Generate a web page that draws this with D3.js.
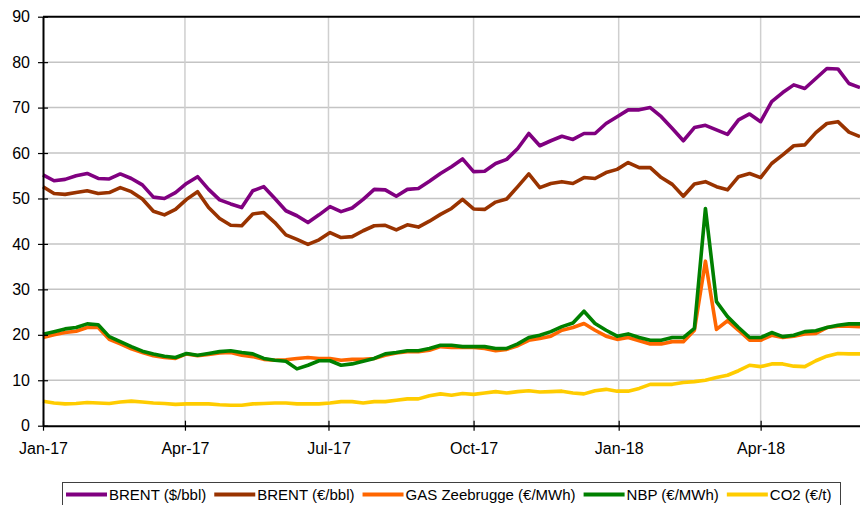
<!DOCTYPE html>
<html>
<head>
<meta charset="utf-8">
<script src="https://cdn.jsdelivr.net/npm/d3@7"></script>
<style>
  body { margin: 0; background: #fff; }
  svg { display: block; font-family: Arial, "Liberation Sans", sans-serif; }
</style>
</head>
<body>
<svg id="chart" width="860" height="505"></svg>
<script>
// weekly dates
const dates = [
  "2017-01-01","2017-01-08","2017-01-15","2017-01-22","2017-01-29","2017-02-05","2017-02-12","2017-02-19","2017-02-26","2017-03-05",
  "2017-03-12","2017-03-19","2017-03-26","2017-04-02","2017-04-09","2017-04-16","2017-04-23","2017-04-30","2017-05-07","2017-05-14",
  "2017-05-21","2017-05-28","2017-06-04","2017-06-11","2017-06-18","2017-06-25","2017-07-02","2017-07-09","2017-07-16","2017-07-23",
  "2017-07-30","2017-08-06","2017-08-13","2017-08-20","2017-08-27","2017-09-03","2017-09-10","2017-09-17","2017-09-24","2017-10-01",
  "2017-10-08","2017-10-15","2017-10-22","2017-10-29","2017-11-05","2017-11-12","2017-11-19","2017-11-26","2017-12-03","2017-12-10",
  "2017-12-17","2017-12-24","2017-12-31","2018-01-07","2018-01-14","2018-01-21","2018-01-28","2018-02-04","2018-02-11","2018-02-18",
  "2018-02-25","2018-03-04","2018-03-11","2018-03-18","2018-03-25","2018-04-01","2018-04-08","2018-04-15","2018-04-22","2018-04-29",
  "2018-05-06","2018-05-13","2018-05-20","2018-05-27","2018-06-03"
];

const brentUsd = [
  55.2, 53.9, 54.2, 55.0, 55.5, 54.4, 54.3, 55.4, 54.4, 53.0,
  50.3, 50.0, 51.3, 53.3, 54.8, 52.0, 49.7, 48.8, 48.0, 51.7,
  52.6, 50.0, 47.3, 46.2, 44.7, 46.4, 48.2, 47.1, 47.9, 49.8,
  52.0, 51.9, 50.5, 52.0, 52.2, 53.8, 55.5, 57.0, 58.7, 55.9,
  56.0, 57.7, 58.6, 61.0, 64.3, 61.6, 62.7, 63.7, 63.0, 64.3,
  64.3, 66.5, 68.0, 69.5, 69.5, 70.0, 68.0, 65.4, 62.7, 65.6,
  66.1, 65.1, 64.1, 67.3, 68.6, 66.9, 71.3, 73.3, 75.0, 74.2,
  76.4, 78.6, 78.5, 75.3, 74.4
];
const brentEur = [
  52.6, 51.1, 50.9, 51.3, 51.7, 51.1, 51.3, 52.4, 51.5, 49.9,
  47.2, 46.4, 47.6, 49.8, 51.5, 48.0, 45.6, 44.1, 44.0, 46.6,
  46.9, 44.7, 42.0, 41.0, 39.9, 40.9, 42.5, 41.4, 41.6, 42.9,
  44.0, 44.1, 43.1, 44.2, 43.7, 45.0, 46.5, 47.8, 49.8, 47.7,
  47.6, 49.2, 49.9, 52.6, 55.4, 52.4, 53.3, 53.7, 53.3, 54.6,
  54.4, 55.7, 56.4, 57.9, 56.8, 56.8, 54.6, 53.1, 50.5, 53.2,
  53.7, 52.6, 51.9, 54.8, 55.5, 54.6, 57.7, 59.6, 61.6, 61.8,
  64.5, 66.5, 66.9, 64.6, 63.6
];
const gasZee = [
  19.4, 20.0, 20.5, 20.8, 21.6, 21.6, 19.0, 18.0, 16.9, 16.1,
  15.4, 15.0, 14.8, 15.8, 15.4, 15.7, 16.0, 16.1, 15.5, 15.2,
  14.6, 14.4, 14.5, 14.8, 15.0, 14.8, 14.8, 14.4, 14.6, 14.6,
  14.8, 15.5, 16.0, 16.3, 16.3, 16.6, 17.4, 17.2, 17.2, 17.2,
  17.0, 16.5, 16.8, 17.6, 18.8, 19.2, 19.7, 21.0, 21.6, 22.5,
  21.0, 19.7, 19.0, 19.4, 18.7, 18.0, 18.0, 18.5, 18.5, 21.0,
  36.2, 21.2, 23.1, 21.0, 18.8, 18.8, 19.9, 19.4, 19.7, 20.2,
  20.3, 21.6, 21.9, 21.9, 21.8
];
const nbp = [
  20.1, 20.7, 21.3, 21.6, 22.4, 22.2, 19.6, 18.5, 17.4, 16.4,
  15.8, 15.3, 15.0, 15.9, 15.5, 15.9, 16.3, 16.5, 16.1, 15.8,
  14.8, 14.4, 14.2, 12.5, 13.3, 14.3, 14.3, 13.3, 13.6, 14.2,
  14.8, 15.8, 16.1, 16.5, 16.5, 17.0, 17.7, 17.7, 17.4, 17.4,
  17.4, 17.0, 17.0, 18.0, 19.4, 19.9, 20.7, 21.8, 22.6, 25.2,
  22.5, 21.0, 19.7, 20.2, 19.4, 18.8, 18.8, 19.4, 19.4, 21.4,
  47.8, 27.3, 24.0, 21.6, 19.4, 19.4, 20.5, 19.6, 19.9, 20.7,
  20.9, 21.6, 22.1, 22.4, 22.4
];
const co2 = [
  5.4, 5.0, 4.8, 4.9, 5.1, 5.0, 4.9, 5.2, 5.4, 5.2,
  5.0, 4.9, 4.7, 4.8, 4.8, 4.8, 4.6, 4.5, 4.5, 4.8,
  4.9, 5.0, 5.0, 4.8, 4.8, 4.8, 5.0, 5.3, 5.3, 5.0,
  5.3, 5.3, 5.6, 5.9, 5.9, 6.6, 7.0, 6.7, 7.1, 6.9,
  7.2, 7.5, 7.2, 7.5, 7.7, 7.4, 7.5, 7.6, 7.2, 7.0,
  7.7, 8.0, 7.6, 7.6, 8.2, 9.1, 9.1, 9.1, 9.5, 9.7,
  10.0, 10.6, 11.1, 12.1, 13.3, 13.0, 13.6, 13.6, 13.1, 13.0,
  14.3, 15.3, 15.9, 15.8, 15.8
];

const seriesNames = ["BRENT ($/bbl)", "BRENT (€/bbl)", "GAS Zeebrugge (€/MWh)", "NBP (€/MWh)", "CO2 (€/t)"];
const seriesValues = [brentUsd, brentEur, gasZee, nbp, co2];
const colors = ["#800080", "#993300", "#ff6600", "#008000", "#ffcc00"];
const yTicks = [0, 10, 20, 30, 40, 50, 60, 70, 80, 90];

const parse = d3.timeParse("%Y-%m-%d");
const dateObjs = dates.map(parse);

const svg = d3.select("#chart");
const plotL = 43, plotR = 860, plotT = 16.7, plotB = 425.7;

const x = d3.scaleTime()
  .domain([parse("2017-01-01"), parse("2018-06-03")])
  .range([plotL, plotR]);
const y = d3.scaleLinear().domain([0, 90]).range([plotB, plotT]);

const quarterTicks = d3.timeMonth.every(3).range(parse("2017-01-01"), parse("2018-06-01"));

// grid lines
svg.append("g").selectAll("line")
  .data(yTicks.filter(v => v > 0 && v < 90))
  .enter().append("line")
  .attr("x1", plotL).attr("x2", plotR)
  .attr("y1", d => y(d)).attr("y2", d => y(d))
  .attr("stroke", "#c4c4c4").attr("stroke-width", 1.5);

svg.append("g").selectAll("line")
  .data(quarterTicks.slice(1))
  .enter().append("line")
  .attr("x1", d => x(d)).attr("x2", d => x(d))
  .attr("y1", plotT).attr("y2", plotB)
  .attr("stroke", "#cfcfcf").attr("stroke-width", 1.5);

// top border
svg.append("line")
  .attr("x1", plotL).attr("x2", plotR)
  .attr("y1", plotT).attr("y2", plotT)
  .attr("stroke", "#000").attr("stroke-width", 2);

// lines
const line = d3.line()
  .x((d, i) => x(dateObjs[i]))
  .y(d => y(d));

const drawOrder = [4, 0, 1, 2, 3];
drawOrder.forEach(k => {
  svg.append("path")
    .datum(seriesValues[k])
    .attr("fill", "none")
    .attr("stroke", colors[k])
    .attr("stroke-width", 3.6)
    .attr("stroke-linejoin", "round")
    .attr("d", line);
});

// y axis
const yAxis = svg.append("g")
  .attr("transform", `translate(${plotL},0)`)
  .call(d3.axisLeft(y).tickValues(yTicks).tickSizeInner(5).tickSizeOuter(0).tickPadding(8));
yAxis.select(".domain").attr("stroke", "#000").attr("stroke-width", 2);
yAxis.selectAll(".tick line").attr("x1", 5).attr("stroke", "#000").attr("stroke-width", 1.2);
yAxis.selectAll(".tick text").attr("font-size", 16).attr("fill", "#000")
  .attr("font-family", "Arial, 'Liberation Sans', sans-serif");

// x axis
const xAxis = svg.append("g")
  .attr("transform", `translate(0,${plotB})`)
  .call(d3.axisBottom(x).tickValues(quarterTicks).tickFormat(d3.timeFormat("%b-%y"))
    .tickSizeInner(5).tickSizeOuter(0).tickPadding(12));
xAxis.select(".domain").attr("stroke", "#000").attr("stroke-width", 2);
xAxis.selectAll(".tick line").attr("y1", -5).attr("stroke", "#000").attr("stroke-width", 1.2);
xAxis.selectAll(".tick text").attr("font-size", 16).attr("fill", "#000")
  .attr("font-family", "Arial, 'Liberation Sans', sans-serif");

// legend
const legend = svg.append("g");
legend.append("rect")
  .attr("x", 62.5).attr("y", 482.5)
  .attr("width", 778).attr("height", 40)
  .attr("fill", "#fff").attr("stroke", "#404040").attr("stroke-width", 1);

let lx = 66;
seriesNames.forEach((name, k) => {
  legend.append("line")
    .attr("x1", lx).attr("x2", lx + 41)
    .attr("y1", 494.5).attr("y2", 494.5)
    .attr("stroke", colors[k]).attr("stroke-width", 4);
  const t = legend.append("text")
    .attr("x", lx + 43).attr("y", 500)
    .attr("font-size", 15).attr("fill", "#000")
    .text(name);
  lx += 43 + t.node().getComputedTextLength() + 8;
});
</script>
</body>
</html>
